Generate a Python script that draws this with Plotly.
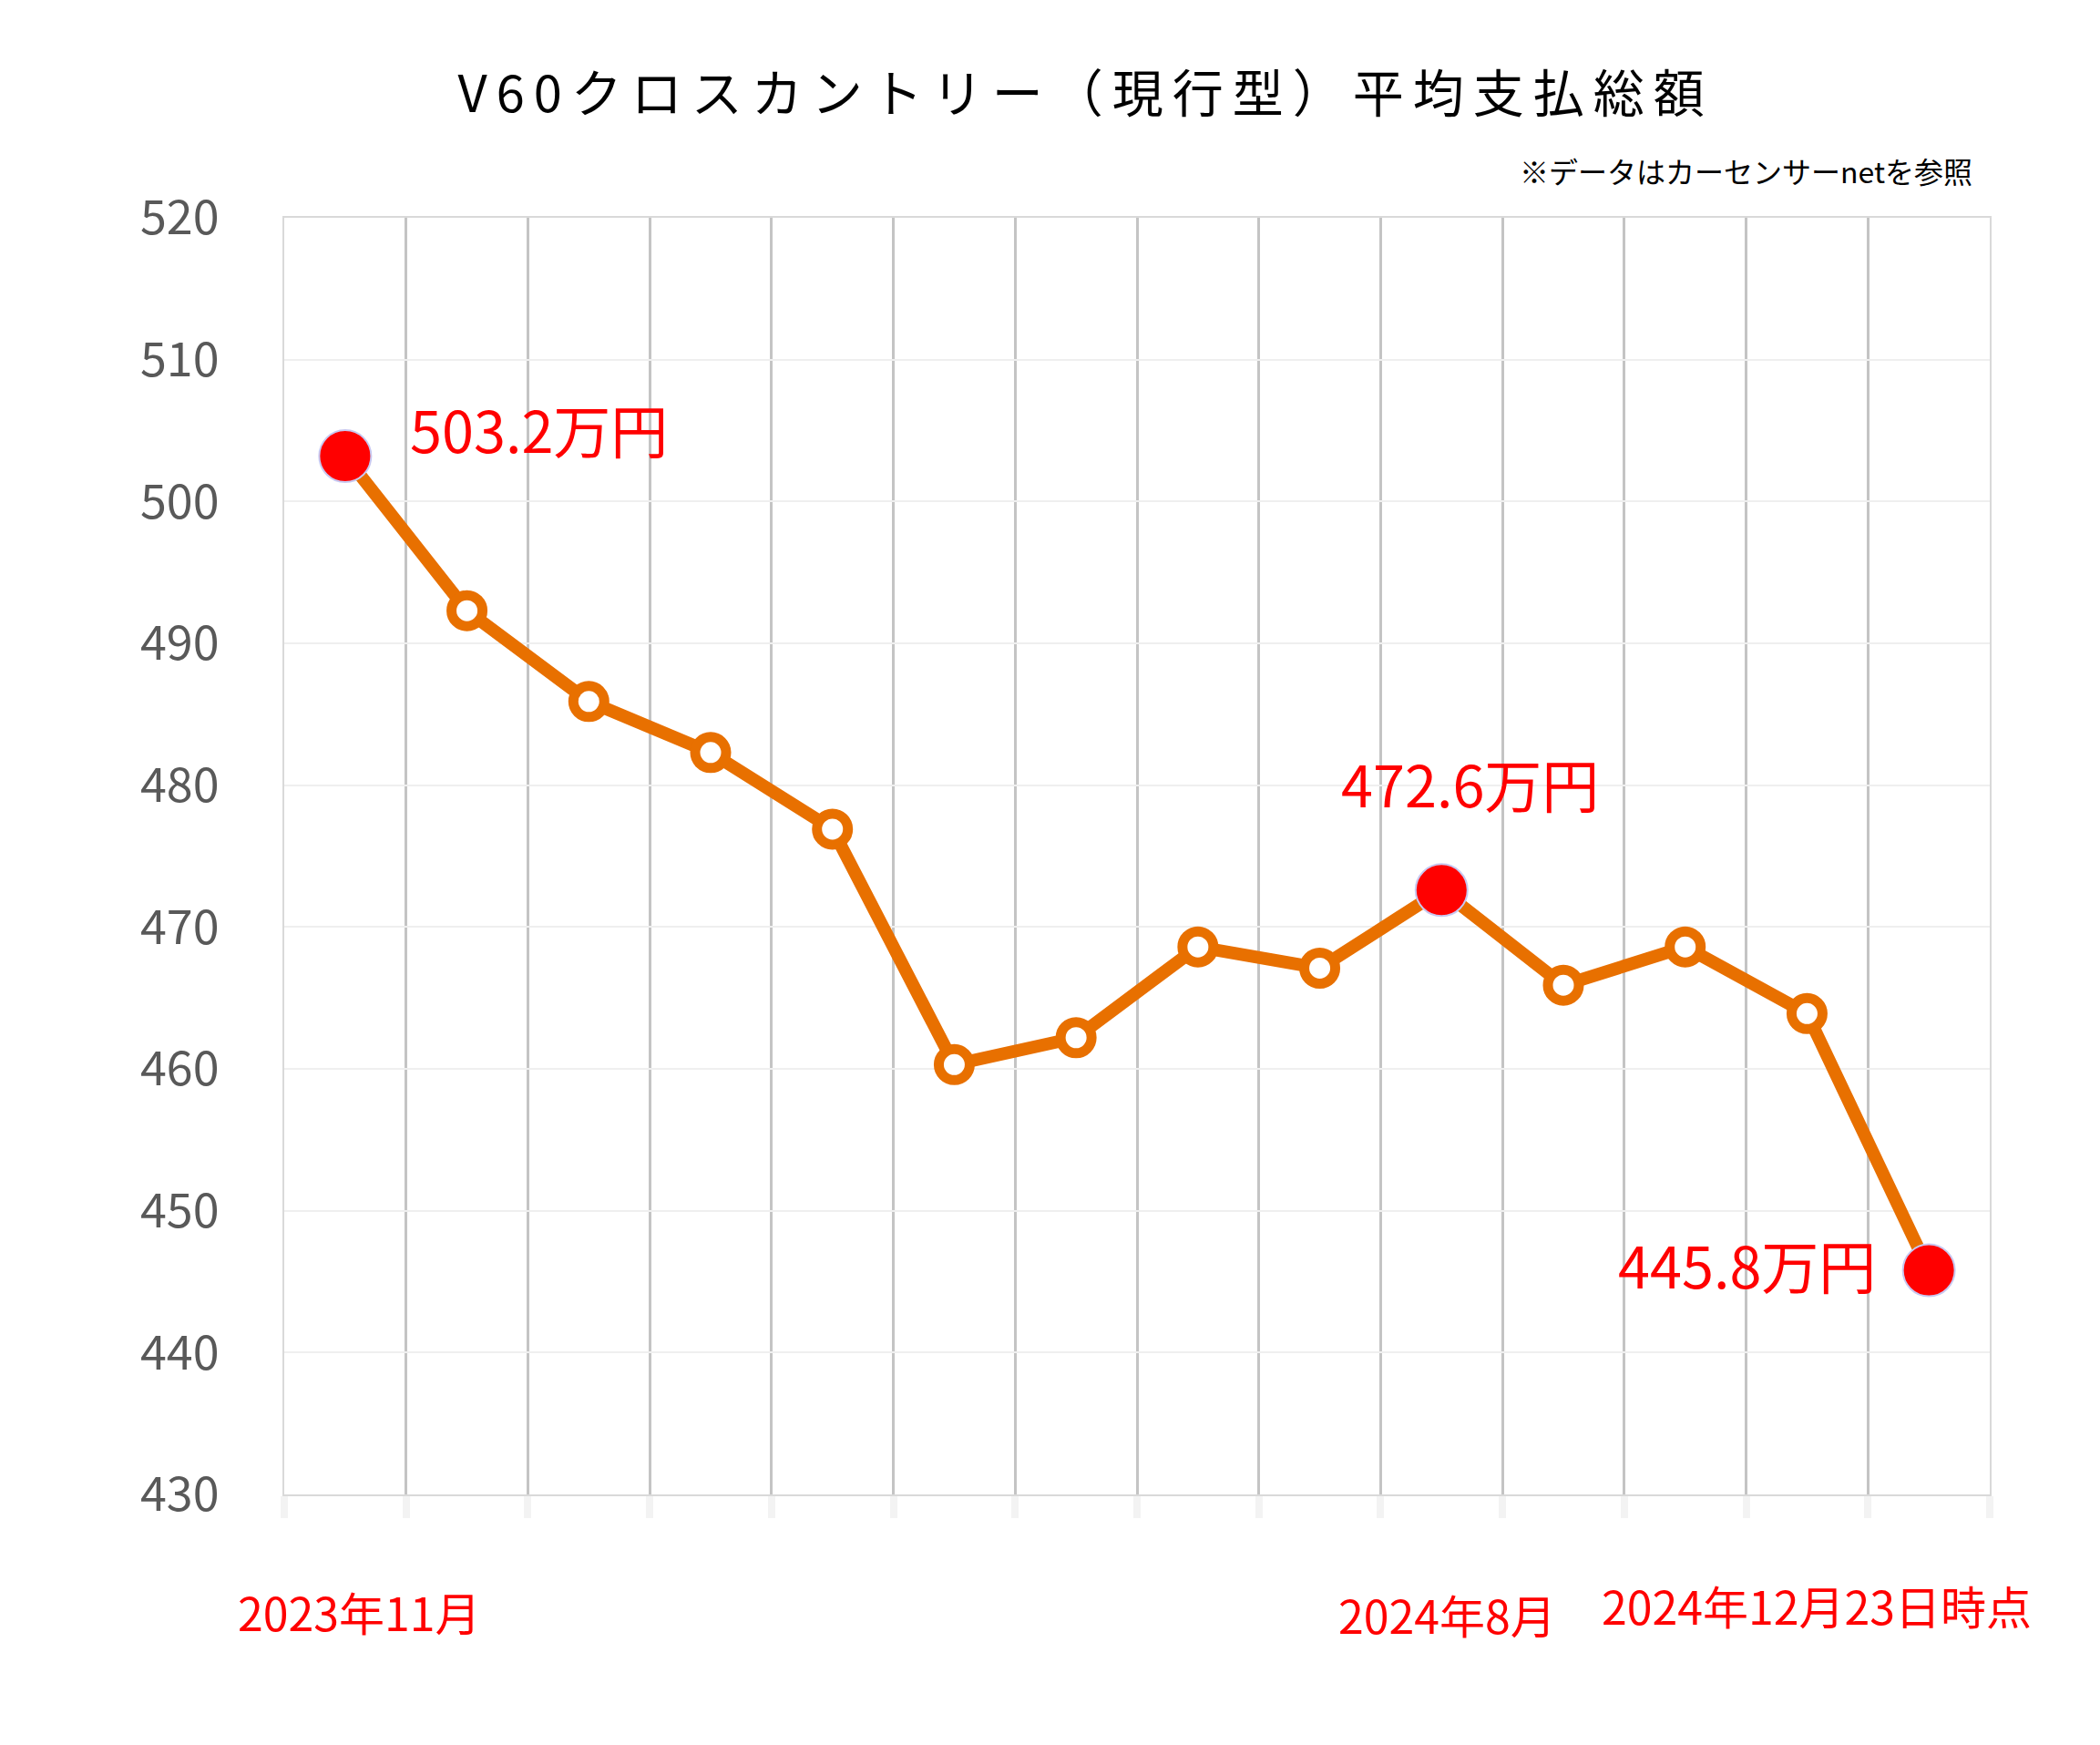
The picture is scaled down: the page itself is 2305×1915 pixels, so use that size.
import plotly.graph_objects as go

# ---- data ----
months = ["2023年11月", "2023年12月", "2024年1月", "2024年2月", "2024年3月", "2024年4月",
          "2024年5月", "2024年6月", "2024年7月", "2024年8月", "2024年9月", "2024年10月",
          "2024年11月", "2024年12月23日時点"]
values = [503.2, 492.3, 485.9, 482.3, 476.9, 460.3, 462.2, 468.6, 467.1, 472.6, 465.9, 468.6, 463.9, 445.8]
highlight = [0, 9, 13]
shown_x_labels = [0, 9, 13]
y_ticks = [430, 440, 450, 460, 470, 480, 490, 500, 510, 520]

title_text = "V60クロスカントリー（現行型）平均支払総額"
note_text = "※データはカーセンサーnetを参照"

FONT = "Noto Sans CJK JP"
ORANGE = "#E87000"
RED = "#FF0000"

n = len(values)
m_color = [RED if i in highlight else "white" for i in range(n)]
m_size = [57 if i in highlight else 34 for i in range(n)]
m_lcolor = ["#C8C8F0" if i in highlight else ORANGE for i in range(n)]
m_lwidth = [2 if i in highlight else 11 for i in range(n)]

fig = go.Figure()
fig.add_trace(go.Scatter(
    x=months, y=values, mode="lines+markers",
    line=dict(color=ORANGE, width=14),
    marker=dict(color=m_color, size=m_size, opacity=1,
                line=dict(color=m_lcolor, width=m_lwidth)),
    opacity=1, showlegend=False, hoverinfo="x+y",
))

# data labels for highlighted points
label_offsets = {0: ("left", 69, 31), 9: ("center", 31, 118), 13: ("right", -56, 8)}
for i in highlight:
    anc, xs, ys = label_offsets[i]
    fig.add_annotation(x=months[i], y=values[i], text=f"{values[i]}万円", showarrow=False,
                       xanchor=anc, yanchor="middle", xshift=xs, yshift=ys,
                       font=dict(family=FONT, size=63, color=RED))

# category labels shown below the axis
xlab_offsets = {0: (16, -128), 9: (6, -131), 13: (-123, -121)}
for i in shown_x_labels:
    xs, ys = xlab_offsets[i]
    fig.add_annotation(x=months[i], y=y_ticks[0], text=months[i], showarrow=False,
                       xanchor="center", yanchor="middle", xshift=xs, yshift=ys,
                       font=dict(family=FONT, size=50, color=RED))

# note
fig.add_annotation(xref="paper", yref="paper", x=1.0, y=1.0, xanchor="right", yanchor="middle",
                   xshift=-17, yshift=52, text=note_text, showarrow=False,
                   font=dict(family=FONT, size=32, color="black"))

fig.update_layout(
    width=2305, height=1915, autosize=False,
    paper_bgcolor="white", plot_bgcolor="white",
    margin=dict(l=312, r=121, t=239, b=275),
    title=dict(text=f'<span style="letter-spacing:10px">{title_text}</span>',
               x=0.517, xanchor="center", y=1 - 103 / 1915, yanchor="middle",
               font=dict(family=FONT, size=56, color="black")),
    font=dict(family=FONT),
)
fig.update_xaxes(
    type="category", range=[-0.5, n - 0.5], showticklabels=False,
    tickson="boundaries", showgrid=True, gridcolor="#C4C4C4", gridwidth=3,
    ticks="outside", ticklen=24, tickwidth=8, tickcolor="#F3F3F3",
    showline=True, linecolor="#D9D9D9", linewidth=2, mirror=True, zeroline=False,
)
fig.update_yaxes(
    range=[y_ticks[0], y_ticks[-1]], tickvals=y_ticks,
    tickfont=dict(family=FONT, size=52, color="#595959"),
    showgrid=True, gridcolor="#EFEFEF", gridwidth=2,
    showline=True, linecolor="#D9D9D9", linewidth=2, mirror=True, zeroline=False,
    ticks="", ticklabelstandoff=59,
)

fig.write_html("out.html", config={"displayModeBar": False},
               post_script="document.body.style.margin='0';document.body.style.overflow='hidden';")
